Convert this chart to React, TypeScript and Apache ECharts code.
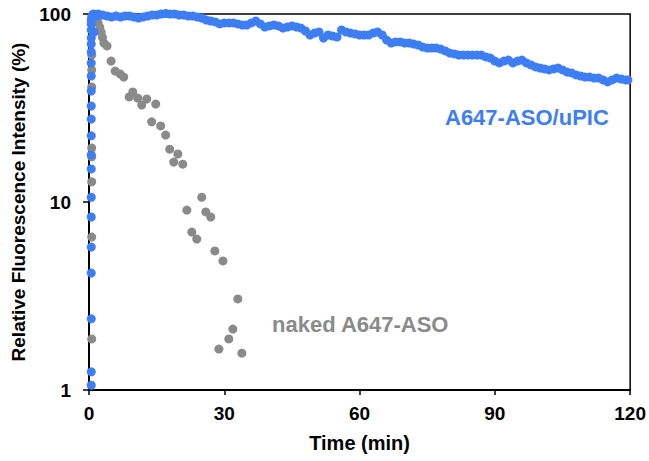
import React, { useEffect, useRef } from "react";
import * as echarts from "echarts";

// Blue series (A647-ASO/uPIC): early vertical rise at t≈0.5 min, then slow decay
const blueRiseTime = 0.5;
const blueRiseValues = [1.06, 1.25, 2.39, 4.19, 5.76, 8.32, 10.6, 15.0, 17.8, 22.5, 27.6, 32.4, 38.9, 46.8, 54.8, 62.8, 69.2, 74.5, 82.2, 88.5, 93.0];
const blueEarlyTimes = [0.6, 0.8, 1.0, 1.1, 1.3, 1.6, 2.0];
const blueEarlyValues = [97, 99, 100, 80, 99, 98, 100];
const blueTimes = [
  1, 2, 3, 4, 5, 6, 7, 8, 9, 10, 11, 12, 13, 14, 15, 16, 17, 18, 19, 20,
  21, 22, 23, 24, 25, 26, 27, 28, 29, 30, 31, 32, 33, 34, 35, 36, 37, 38, 39, 40,
  41, 42, 43, 44, 45, 46, 47, 48, 49, 50, 51, 52, 53, 54, 55, 56, 57, 58, 59, 60,
  61, 62, 63, 64, 65, 66, 67, 68, 69, 70, 71, 72, 73, 74, 75, 76, 77, 78, 79, 80,
  81, 82, 83, 84, 85, 86, 87, 88, 89, 90, 91, 92, 93, 94, 95, 96, 97, 98, 99, 100,
  101, 102, 103, 104, 105, 106, 107, 108, 109, 110, 111, 112, 113, 114, 115, 116, 117, 118, 119, 119.5,
];
const blueValues = [
  98.8, 97.6, 98.8, 97.6, 96.4, 97.6, 96.4, 97.6, 97.6, 96.4, 95.2, 96.4, 97.6, 98.8, 98.8, 100, 100.6, 100, 100, 98.8,
  98.8, 97.6, 97.6, 96.4, 95.2, 92.9, 91.8, 90.7, 88.5, 89.6, 89.6, 89.6, 88.5, 87.4, 87.4, 89.6, 91.8, 88.5, 85.3, 86.4,
  87.4, 86.4, 84.2, 85.3, 86.4, 85.3, 84.2, 81.2, 77.3, 79.2, 80.2, 74.5, 77.3, 76.4, 75.4, 82.2, 80.2, 79.2, 78.3, 77.3,
  77.3, 77.3, 79.2, 80.2, 77.3, 72.7, 70.1, 71.0, 71.0, 70.1, 70.1, 69.2, 68.4, 66.7, 65.9, 65.9, 65.9, 65.1, 63.6, 62.0,
  61.3, 60.5, 60.5, 60.5, 60.5, 60.5, 60.5, 59.1, 58.3, 56.2, 54.9, 56.2, 56.9, 54.9, 56.2, 56.9, 54.9, 53.6, 52.3, 51.6,
  51.0, 50.4, 51.0, 51.6, 50.4, 49.1, 48.6, 47.4, 46.8, 46.2, 46.2, 45.6, 45.6, 44.6, 43.5, 44.6, 45.6, 45.1, 44.6, 44.6,
];

// Gray series (naked A647-ASO)
const grayRiseTime = 0.6;
const grayRiseValues = [1.87, 6.51, 12.8, 17.4, 19.4, 40.9, 50.4, 60.5];
const grayTimes = [1.0, 1.5, 2.0, 2.4, 2.7, 3.0, 3.3, 4.0, 4.9, 5.8, 6.9, 7.7, 8.9, 9.7, 10.8, 11.7, 12.8, 13.9, 14.8, 15.9, 17.0, 17.9, 18.8, 19.7, 20.8, 21.7, 22.8, 23.9, 25.0, 25.9, 27.0, 27.9, 28.8, 29.7, 31.0, 31.9, 33.0, 33.9];
const grayValues = [98, 95, 90, 85, 80, 75, 70, 67.6, 56.2, 49.7, 48.0, 46.2, 36.2, 38.5, 35.7, 32.8, 35.3, 26.7, 33.2, 25.4, 22.7, 19.1, 16.3, 18.0, 15.9, 9.06, 6.92, 6.35, 10.6, 8.85, 8.32, 5.49, 1.65, 4.86, 1.87, 2.11, 3.05, 1.57];

const xTicks = [0, 30, 60, 90, 120];
const blueLabel = "A647-ASO/uPIC";
const grayLabel = "naked A647-ASO";

const BLUE = "#3d7ef4";
const GRAY = "#8a8a8a";
const FONT = "'Liberation Sans', Arial, sans-serif";

export default function App() {
  const ref = useRef<HTMLDivElement>(null);
  useEffect(() => {
    if (!ref.current) return;
    const chart = echarts.init(ref.current, undefined, { renderer: "svg" });
    const blueData: number[][] = [
      ...blueRiseValues.map((v) => [blueRiseTime, v]),
      ...blueEarlyTimes.map((t, i) => [t, blueEarlyValues[i]]),
      ...blueTimes.map((t, i) => [t, blueValues[i]]),
    ];
    const grayData: number[][] = [
      ...grayRiseValues.map((v) => [grayRiseTime, v]),
      ...grayTimes.map((t, i) => [t, grayValues[i]]),
    ];
    chart.setOption({
      animation: false,
      backgroundColor: "#fff",
      grid: {
        left: 89,
        right: 18,
        top: 14,
        bottom: 71,
        show: true,
        borderColor: "#000",
        borderWidth: 1.5,
      },
      xAxis: {
        type: "value",
        min: xTicks[0],
        max: xTicks[xTicks.length - 1],
        interval: 30,
        name: "Time (min)",
        nameLocation: "middle",
        nameGap: 43,
        nameTextStyle: { fontFamily: FONT, fontWeight: "bold", fontSize: 20, color: "#000" },
        axisLine: { show: true, onZero: false, lineStyle: { color: "#000", width: 2 } },
        axisTick: { show: true, length: 5, lineStyle: { color: "#000", width: 1.5 } },
        axisLabel: { fontFamily: FONT, fontWeight: "bold", fontSize: 19, color: "#000", margin: 14 },
        splitLine: { show: false },
      },
      yAxis: {
        type: "log",
        logBase: 10,
        min: 1,
        max: 100,
        name: "Relative Fluorescence Intensity (%)",
        nameLocation: "middle",
        nameGap: 60,
        nameTextStyle: { fontFamily: FONT, fontWeight: "bold", fontSize: 19, color: "#000" },
        axisLine: { show: true, lineStyle: { color: "#000", width: 2 } },
        axisTick: { show: true, length: 6, lineStyle: { color: "#000", width: 1.5 } },
        minorTick: { show: false },
        axisLabel: { fontFamily: FONT, fontWeight: "bold", fontSize: 19, color: "#000", margin: 18, align: "right" },
        splitLine: { show: false },
      },
      series: [
        {
          type: "scatter",
          data: grayData,
          symbolSize: 9,
          clip: false,
          itemStyle: { color: GRAY, opacity: 1 },
          z: 2,
        },
        {
          type: "scatter",
          data: blueData,
          symbolSize: 9,
          clip: false,
          itemStyle: { color: BLUE, opacity: 1 },
          z: 3,
        },
      ],
      graphic: [
        {
          type: "text",
          left: 445,
          top: 106,
          style: { text: blueLabel, fill: BLUE, font: `bold 22px ${FONT}` },
          z: 10,
        },
        {
          type: "text",
          left: 272,
          top: 313,
          style: { text: grayLabel, fill: GRAY, font: `bold 22px ${FONT}` },
          z: 10,
        },
      ],
    });
    return () => chart.dispose();
  }, []);
  return (
    <div
      ref={ref}
      style={{ position: "absolute", left: 0, top: 0, width: 649, height: 461 }}
    />
  );
}
